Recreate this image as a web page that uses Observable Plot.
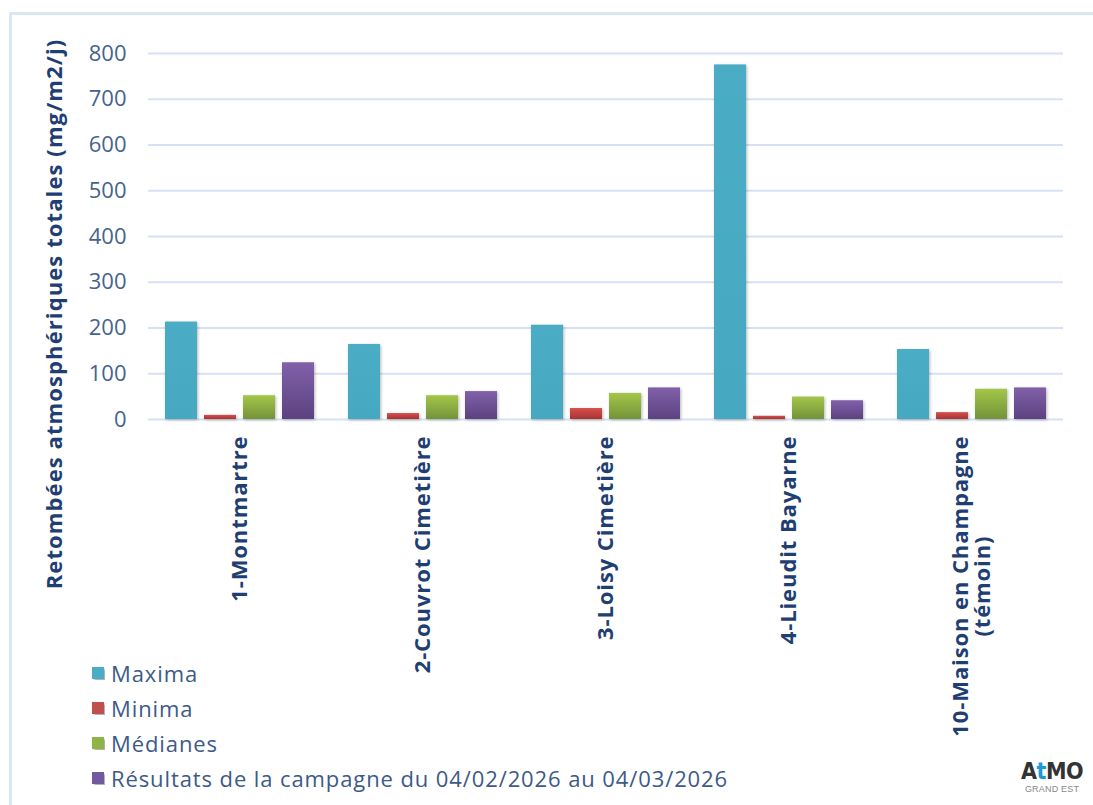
<!DOCTYPE html>
<html>
<head>
<meta charset="utf-8">
<script src="https://cdn.jsdelivr.net/npm/d3@7"></script>
<script src="https://cdn.jsdelivr.net/npm/@observablehq/plot@0.6"></script>
<style>
  html, body { margin: 0; padding: 0; background: #fff; }
  #wrap { position: relative; width: 1093px; height: 805px; overflow: hidden; font-family: "Open Sans", sans-serif; }
  #frame { position: absolute; left: 9px; top: 12px; width: 1200px; height: 900px; border-left: 3px solid #DCE6F3; border-top: 3px solid #DCE6F3; }
  #chart { position: absolute; left: 0; top: 0; }
  .bars rect { filter: drop-shadow(1px 1px 1.5px rgba(0,0,0,0.28)); }
  g[aria-label="fx-axis tick label"] text { letter-spacing: 0.9px; }
  #ylabel { position: absolute; left: 53px; top: 314px; transform: translate(-50%, -50%) rotate(-90deg); white-space: nowrap;
            font: bold 22px "Open Sans", sans-serif; color: #1F3F73; letter-spacing: 1.1px; }
  #legend { position: absolute; left: 92px; top: 655px; }
  .item { display: flex; align-items: center; height: 35px; font-size: 22px; color: #3D5A88; white-space: nowrap; letter-spacing: 0.9px; }
  .sw { width: 12px; height: 12px; margin-right: 7px; box-shadow: 0.5px 0.5px 1px rgba(0,0,0,0.3); }
  #logo { position: absolute; left: 1021px; top: 758px; text-align: center; }
  #logo .big { font: bold 23px "Liberation Sans Narrow", "DejaVu Sans Condensed", "Liberation Sans", sans-serif; color: #333; line-height: 26px; letter-spacing: -0.5px; }
  #logo .big span { color: #1B9AD6; }
  #logo .small { font: 9px "Liberation Sans Narrow", "Liberation Sans", sans-serif; color: #888; line-height: 10px; letter-spacing: 0.2px; }
</style>
</head>
<body>
<svg width="0" height="0" style="position:absolute">
  <defs>
    <linearGradient id="gMax" x1="0" y1="0" x2="0" y2="1"><stop offset="0" stop-color="#4BACC6"/><stop offset="1" stop-color="#47A8C2"/></linearGradient>
    <linearGradient id="gMin" x1="0" y1="0" x2="0" y2="1"><stop offset="0" stop-color="#D6504C"/><stop offset="1" stop-color="#A83330"/></linearGradient>
    <linearGradient id="gMed" x1="0" y1="0" x2="0" y2="1"><stop offset="0" stop-color="#A3C649"/><stop offset="1" stop-color="#73933A"/></linearGradient>
    <linearGradient id="gRes" x1="0" y1="0" x2="0" y2="1"><stop offset="0" stop-color="#8161AA"/><stop offset="1" stop-color="#5C4280"/></linearGradient>
  </defs>
</svg>
<div id="wrap">
  <div id="frame"></div>
  <div id="chart"></div>
  <div id="ylabel">Retombées atmosphériques totales (mg/m2/j)</div>
  <div id="legend"></div>
  <div id="logo"><div class="big">A<span>t</span>MO</div><div class="small">GRAND EST</div></div>
</div>
<script>
// ---- data ----
const categories = ["1-Montmartre", "2-Couvrot Cimetière", "3-Loisy Cimetière", "4-Lieudit Bayarne", "10-Maison en Champagne\n(témoin)"];
const seriesNames = ["Maxima", "Minima", "Médianes", "Résultats de la campagne du 04/02/2026 au 04/03/2026"];
const maxima   = [213, 164, 206, 775, 153];
const minima   = [9, 13, 24, 7, 15];
const medianes = [52, 52, 57, 49, 66];
const resultats = [124, 61, 69, 41, 69];
const yTicks = [0, 100, 200, 300, 400, 500, 600, 700, 800];
const seriesColors = ["#4BACC6", "#C0504D", "#8FB446", "#7159A0"];
const seriesFills = ["url(#gMax)", "url(#gMin)", "url(#gMed)", "url(#gRes)"];

const seriesValues = [maxima, minima, medianes, resultats];
const rows = [];
categories.forEach((c, i) => seriesNames.forEach((s, j) => rows.push({cat: c, series: s, value: seriesValues[j][i]})));

const chart = Plot.plot({
  width: 1093,
  height: 805,
  marginLeft: 146,
  marginRight: 28,
  marginTop: 53,
  marginBottom: 386,
  style: {fontFamily: "'Open Sans', sans-serif", background: "transparent", overflow: "visible"},
  fx: {domain: categories, padding: 0, label: null},
  x: {domain: seriesNames, paddingInner: 0.18, paddingOuter: 0.38, axis: null},
  y: {domain: [0, 800], label: null},
  color: {domain: seriesNames, range: seriesFills},
  marks: [
    Plot.gridY(yTicks, {stroke: "#D6E2F3", strokeOpacity: 1, strokeWidth: 2}),
    Plot.barY(rows, {fx: "cat", x: "series", y: "value", fill: "series", className: "bars"}),
    Plot.axisY(yTicks, {tickSize: 0, tickPadding: 22, fontSize: 22, fill: "#46638F", label: null, tickFormat: d => String(d)}),
    Plot.axisFx({anchor: "bottom", tickRotate: -90, tickSize: 0, tickPadding: 16, fontSize: 22, fontWeight: "bold", fill: "#1F3F73", label: null})
  ]
});
document.getElementById("chart").appendChild(chart);

// center the lines of multi-line category labels relative to each other
chart.querySelectorAll("text").forEach(t => {
  const spans = t.querySelectorAll("tspan");
  if (spans.length > 1) {
    const lens = Array.from(spans, s => s.getComputedTextLength());
    const maxLen = Math.max(...lens);
    spans.forEach((s, k) => s.setAttribute("x", -(maxLen - lens[k]) / 2));
  }
});

// legend
const legend = document.getElementById("legend");
seriesNames.forEach((s, j) => {
  const it = document.createElement("div");
  it.className = "item";
  const sw = document.createElement("div");
  sw.className = "sw";
  sw.style.background = seriesColors[j];
  it.appendChild(sw);
  it.appendChild(document.createTextNode(s));
  legend.appendChild(it);
});
</script>
</body>
</html>
